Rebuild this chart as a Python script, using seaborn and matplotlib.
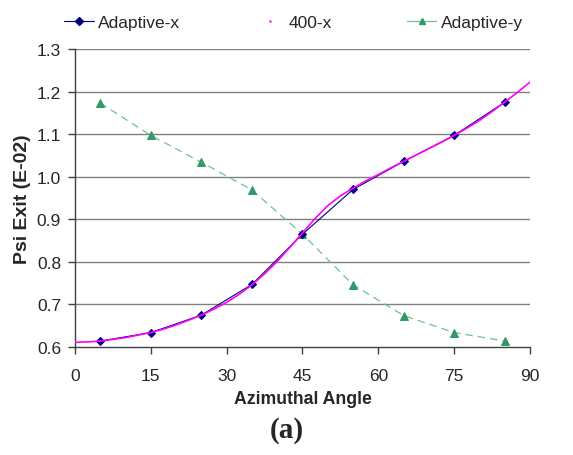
import matplotlib
matplotlib.use("Agg")
import matplotlib.pyplot as plt
import seaborn as sns
import pandas as pd
from matplotlib.lines import Line2D

# Data
adaptive_angles = [5, 15, 25, 35, 45, 55, 65, 75, 85]
adaptive_x = [0.614, 0.634, 0.675, 0.747, 0.865, 0.970, 1.036, 1.097, 1.175]
adaptive_y = [1.173, 1.097, 1.034, 0.969, 0.865, 0.746, 0.674, 0.634, 0.614]

fine_angles = [0, 2.5, 5, 7.5, 10, 12.5, 15, 17.5, 20, 22.5, 25, 27.5, 30, 32.5,
               35, 37.5, 40, 42.5, 45, 47.5, 50, 52.5, 55, 57.5, 60, 62.5, 65,
               67.5, 70, 72.5, 75, 77.5, 80, 82.5, 85, 87.5, 90]
fine_x = [0.611, 0.612, 0.614, 0.618, 0.622, 0.628, 0.634, 0.642, 0.652, 0.663,
          0.675, 0.689, 0.705, 0.724, 0.746, 0.772, 0.801, 0.834, 0.868, 0.902,
          0.932, 0.955, 0.973, 0.990, 1.005, 1.021, 1.036, 1.051, 1.066, 1.081,
          1.097, 1.114, 1.132, 1.153, 1.175, 1.198, 1.222]

x_ticks = [0, 15, 30, 45, 60, 75, 90]
y_ticks = [0.6, 0.7, 0.8, 0.9, 1.0, 1.1, 1.2, 1.3]
legend_labels = ["Adaptive-x", "400-x", "Adaptive-y"]

sns.set_theme(style="white")
plt.rcParams['font.family'] = ['Liberation Sans', 'DejaVu Sans']

df_ax = pd.DataFrame({"angle": adaptive_angles, "psi": adaptive_x})
df_ay = pd.DataFrame({"angle": adaptive_angles, "psi": adaptive_y})
df_f = pd.DataFrame({"angle": fine_angles, "psi": fine_x})

fig = plt.figure(figsize=(5.73, 4.56), dpi=100)
ax = fig.add_axes([0.1309, 0.2368, 0.794, 0.6536])

for yv in y_ticks[1:]:
    ax.axhline(yv, color="#808080", lw=1.0, zorder=0)

sns.lineplot(data=df_ay, x="angle", y="psi", ax=ax, color="#6fbfa0", lw=0.9,
             linestyle=(0, (6, 4)), marker="^", markersize=6,
             markerfacecolor="#339966", markeredgecolor="#339966",
             legend=False, zorder=3)
sns.lineplot(data=df_ax, x="angle", y="psi", ax=ax, color="#000080", lw=0.8,
             marker="D", markersize=4.5, markerfacecolor="#000080",
             markeredgecolor="#000080", legend=False, zorder=4)
sns.lineplot(data=df_f, x="angle", y="psi", ax=ax, color="#ff00ff", lw=1.2,
             legend=False, zorder=5)

ax.set_xlim(0, 90)
ax.set_ylim(0.6, 1.3)
ax.set_xticks(x_ticks)
ax.set_yticks(y_ticks)
ax.set_xticklabels([str(v) for v in x_ticks], fontsize=12.5)
ax.set_yticklabels([f"{v:.1f}" for v in y_ticks], fontsize=12.5)
ax.tick_params(axis="both", direction="out", length=5, width=1, color="#404040",
               bottom=True, left=True, pad=5)
ax.tick_params(axis="x", pad=10)
for s in ["top", "right"]:
    ax.spines[s].set_visible(False)
for s in ["left", "bottom"]:
    ax.spines[s].set_color("#404040")
    ax.spines[s].set_linewidth(1)

ax.set_xlabel("Azimuthal Angle", fontsize=12.7, fontweight="bold", labelpad=5)
ax.set_ylabel("Psi Exit (E-02)", fontsize=14, fontweight="bold", labelpad=4)

handles = [
    Line2D([], [], color="#000080", lw=0.8, marker="D", markersize=4),
    Line2D([], [], color="#ff00ff", lw=0, marker=".", markersize=1.5),
    Line2D([], [], color="#6fbfa0", lw=0.9, marker="^", markersize=5,
           markerfacecolor="#339966", markeredgecolor="#339966"),
]
fig.legend(handles, legend_labels, loc="upper left",
           bbox_to_anchor=(0.097, 0.985), ncol=3, frameon=False, fontsize=12.5,
           borderpad=0, columnspacing=4.3, handlelength=1.7, handletextpad=0.25)

fig.text(0.50, 0.055, "(a)", ha="center", va="center", fontsize=21,
         fontweight="bold", family=["Liberation Serif", "DejaVu Serif"])

fig.savefig("out.png", dpi=100)
